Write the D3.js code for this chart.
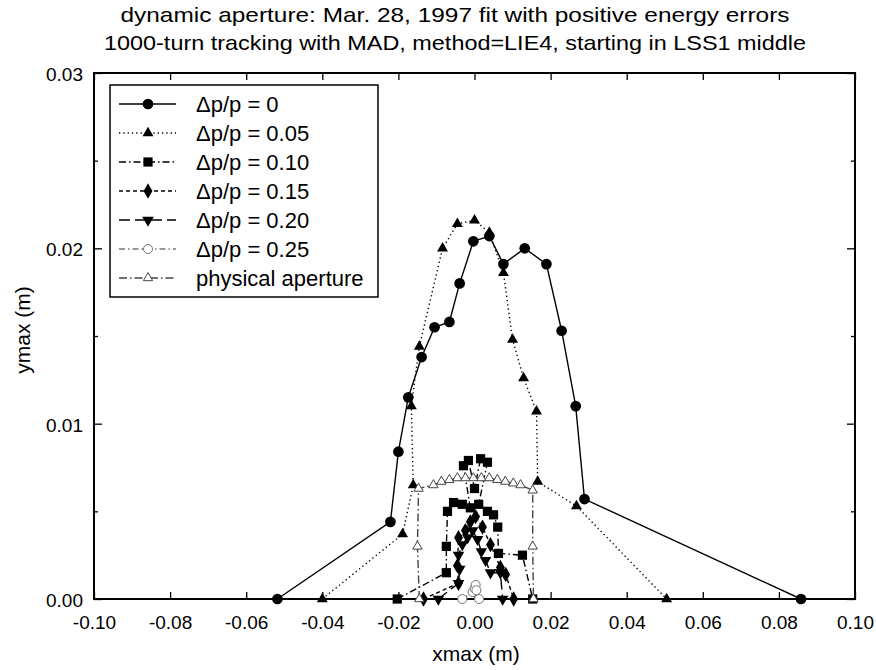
<!DOCTYPE html>
<html>
<head>
<meta charset="utf-8">
<script src="https://cdn.jsdelivr.net/npm/d3@7"></script>
<style>
body { margin: 0; background: #fff; }
text { font-family: "Liberation Sans", Arial, sans-serif; fill: #000; }
</style>
</head>
<body>
<script>
// chart text
var titleLines = ["dynamic aperture: Mar. 28, 1997 fit with positive energy errors",
                  "1000-turn tracking with MAD, method=LIE4, starting in LSS1 middle"];
var xLabel = "xmax (m)";
var yLabel = "ymax (m)";
var xTicks = [-0.10, -0.08, -0.06, -0.04, -0.02, 0.00, 0.02, 0.04, 0.06, 0.08, 0.10];
var yTicks = [0.00, 0.01, 0.02, 0.03];
var yMinorTicks = [0.005, 0.015, 0.025];
var seriesNames = ["\u0394p/p = 0", "\u0394p/p = 0.05", "\u0394p/p = 0.10", "\u0394p/p = 0.15",
                   "\u0394p/p = 0.20", "\u0394p/p = 0.25", "physical aperture"];

// data
var dp00X = [-0.0518, -0.0221, -0.0200, -0.0174, -0.0139, -0.0105, -0.0066, -0.0039, -0.0003, 0.0039, 0.0076, 0.0132, 0.0189, 0.0229, 0.0266, 0.0289, 0.0858];
var dp00Y = [0, 0.0044, 0.0084, 0.0115, 0.0138, 0.0155, 0.0158, 0.0180, 0.0204, 0.0207, 0.0191, 0.0200, 0.0191, 0.0153, 0.0110, 0.0057, 0];

var dp05X = [-0.0400, -0.0189, -0.0161, -0.0166, -0.0145, -0.0084, -0.0045, 0.0000, 0.0039, 0.0076, 0.0100, 0.0129, 0.0163, 0.0166, 0.0268, 0.0505];
var dp05Y = [0, 0.0037, 0.0065, 0.0110, 0.0144, 0.0200, 0.0214, 0.0216, 0.0209, 0.0186, 0.0148, 0.0126, 0.0107, 0.0067, 0.0053, 0];

var dp10X = [-0.0203, -0.0074, -0.0074, -0.0071, -0.0055, -0.0032, -0.0011, -0.0029, -0.0016, 0.0000, 0.0016, 0.0034, 0.0011, 0.0034, 0.0050, 0.0061, 0.0063, 0.0126, 0.0153];
var dp10Y = [0, 0.0015, 0.0030, 0.0050, 0.0055, 0.0054, 0.0052, 0.0076, 0.0079, 0.0063, 0.0080, 0.0078, 0.0054, 0.0050, 0.0048, 0.0041, 0.0026, 0.0025, 0];

var dp15X = [-0.0134, -0.0042, -0.0045, -0.0042, -0.0024, -0.0011, 0.0003, 0.0021, 0.0042, 0.0068, 0.0082, 0.0103];
var dp15Y = [0, 0.0009, 0.0019, 0.0035, 0.0039, 0.0044, 0.0047, 0.0041, 0.0031, 0.0018, 0.0014, 0];

var dp20X = [-0.0095, -0.0042, -0.0039, -0.0042, -0.0032, -0.0018, -0.0005, 0.0008, 0.0018, 0.0029, 0.0042, 0.0068, 0.0074];
var dp20Y = [0, 0.0009, 0.0017, 0.0025, 0.0031, 0.0035, 0.0039, 0.0034, 0.0027, 0.0022, 0.0015, 0.0015, 0];

var dp25X = [-0.0032, -0.0005, 0.0000, 0.0003, 0.0005, 0.0012];
var dp25Y = [0, 0.0004, 0.0006, 0.0008, 0.0005, 0];

var physX = [-0.0145, -0.0150, -0.0147, -0.0108, -0.0087, -0.0066, -0.0045, -0.0024, -0.0003, 0.0018, 0.0039, 0.0060, 0.0081, 0.0102, 0.0121, 0.0153, 0.0153, 0.0155];
var physY = [0, 0.0030, 0.0063, 0.0065, 0.0067, 0.0068, 0.0069, 0.0069, 0.0069, 0.0069, 0.0069, 0.0068, 0.0067, 0.0066, 0.0065, 0.0062, 0.0030, 0];

var seriesX = [dp00X, dp05X, dp10X, dp15X, dp20X, dp25X, physX];
var seriesY = [dp00Y, dp05Y, dp10Y, dp15Y, dp20Y, dp25Y, physY];

// look of each series
var styles = [
  { dash: null,            stroke: "#000", sym: d3.symbolCircle,   size: 90, fill: "#000", rot: 0 },
  { dash: "1.3,3",         stroke: "#000", sym: d3.symbolTriangle, size: 52, fill: "#000", rot: 0 },
  { dash: "7,3,1.5,3",     stroke: "#000", sym: d3.symbolSquare,   size: 85, fill: "#000", rot: 0 },
  { dash: "4,3",           stroke: "#000", sym: d3.symbolDiamond,  size: 68, fill: "#000", rot: 0 },
  { dash: "11,5",          stroke: "#000", sym: d3.symbolTriangle, size: 58, fill: "#000", rot: 180 },
  { dash: "6,3,1.5,3",     stroke: "#777", sym: d3.symbolCircle,   size: 64, fill: "#fff", rot: 0 },
  { dash: "8,3,1.5,3",     stroke: "#444", sym: d3.symbolTriangle, size: 38, fill: "#fff", rot: 0 }
];

var svg = d3.select("body").append("svg")
            .attr("width", 876)
            .attr("height", 670);

var x = d3.scaleLinear().domain([-0.1, 0.1]).range([94, 855]);
var y = d3.scaleLinear().domain([0, 0.03]).range([599, 73]);

// titles
svg.selectAll("text.title")
   .data(titleLines)
   .enter().append("text")
   .attr("class", "title")
   .attr("x", 455)
   .attr("y", function (d, i) { return i === 0 ? 22 : 50; })
   .attr("text-anchor", "middle")
   .attr("font-size", 21)
   .attr("textLength", function (d, i) { return i === 0 ? 669 : 702; })
   .attr("lengthAdjust", "spacingAndGlyphs")
   .text(function (d) { return d; });

// axes, ticks pointing inside
function fmt(d) { return d.toFixed(2); }

var gx = svg.append("g").attr("transform", "translate(0,599)")
   .call(d3.axisBottom(x).tickValues(xTicks).tickFormat(fmt).tickSizeInner(-7).tickSizeOuter(0).tickPadding(17));
var gxt = svg.append("g").attr("transform", "translate(0,73)")
   .call(d3.axisTop(x).tickValues(xTicks).tickFormat("").tickSizeInner(-7).tickSizeOuter(0));
var gy = svg.append("g").attr("transform", "translate(94,0)")
   .call(d3.axisLeft(y).tickValues(yTicks).tickFormat(fmt).tickSizeInner(-8).tickSizeOuter(0).tickPadding(11));
var gyr = svg.append("g").attr("transform", "translate(855,0)")
   .call(d3.axisRight(y).tickValues(yTicks).tickFormat("").tickSizeInner(-8).tickSizeOuter(0));
var gym = svg.append("g").attr("transform", "translate(94,0)")
   .call(d3.axisLeft(y).tickValues(yMinorTicks).tickFormat("").tickSizeInner(-4).tickSizeOuter(0));
var gymr = svg.append("g").attr("transform", "translate(855,0)")
   .call(d3.axisRight(y).tickValues(yMinorTicks).tickFormat("").tickSizeInner(-4).tickSizeOuter(0));

svg.selectAll(".domain").remove();
svg.selectAll(".tick line").attr("stroke", "#000").attr("stroke-width", 1.3);
gx.selectAll("text").attr("font-size", 19).attr("font-family", "Liberation Sans, Arial, sans-serif");
gy.selectAll("text").attr("font-size", 19).attr("font-family", "Liberation Sans, Arial, sans-serif").attr("dy", "0.4em");

svg.append("rect")
   .attr("x", 94).attr("y", 73)
   .attr("width", 855 - 94).attr("height", 599 - 73)
   .attr("fill", "none")
   .attr("stroke", "#000")
   .attr("stroke-width", 2);

// axis labels
svg.append("text")
   .attr("x", 476).attr("y", 661)
   .attr("text-anchor", "middle")
   .attr("font-size", 21)
   .text(xLabel);

svg.append("text")
   .attr("transform", "translate(30,330) rotate(-90)")
   .attr("text-anchor", "middle")
   .attr("font-size", 21)
   .text(yLabel);

// series
var line = d3.line()
             .x(function (d) { return x(d[0]); })
             .y(function (d) { return y(d[1]); });

seriesX.forEach(function (xs, i) {
  var pts = d3.zip(xs, seriesY[i]);
  var st = styles[i];
  var g = svg.append("g");
  g.append("path")
   .datum(pts)
   .attr("d", line)
   .attr("fill", "none")
   .attr("stroke", st.stroke)
   .attr("stroke-width", 1.4)
   .attr("stroke-dasharray", st.dash);
  g.selectAll("path.mark")
   .data(pts)
   .enter().append("path")
   .attr("class", "mark")
   .attr("d", d3.symbol().type(st.sym).size(st.size))
   .attr("transform", function (d) { return "translate(" + x(d[0]) + "," + y(d[1]) + ") rotate(" + st.rot + ")"; })
   .attr("fill", st.fill)
   .attr("stroke", st.fill === "#fff" ? st.stroke : "none")
   .attr("stroke-width", 1);
});

// legend
var legend = svg.append("g");
legend.append("rect")
   .attr("x", 110).attr("y", 85)
   .attr("width", 268).attr("height", 212)
   .attr("fill", "#fff")
   .attr("stroke", "#000")
   .attr("stroke-width", 1.5);

var rows = legend.selectAll("g.row")
   .data(seriesNames)
   .enter().append("g")
   .attr("class", "row")
   .attr("transform", function (d, i) { return "translate(0," + (104 + i * 29) + ")"; });

rows.append("line")
   .attr("x1", 119).attr("x2", 176)
   .attr("stroke", function (d, i) { return styles[i].stroke; })
   .attr("stroke-width", 1.4)
   .attr("stroke-dasharray", function (d, i) { return styles[i].dash; });

rows.append("path")
   .attr("d", function (d, i) { return d3.symbol().type(styles[i].sym).size(styles[i].size)(); })
   .attr("transform", function (d, i) { return "translate(148,0) rotate(" + styles[i].rot + ")"; })
   .attr("fill", function (d, i) { return styles[i].fill; })
   .attr("stroke", function (d, i) { return styles[i].fill === "#fff" ? styles[i].stroke : "none"; });

rows.append("text")
   .attr("x", 196)
   .attr("y", 8)
   .attr("font-size", 22)
   .text(function (d) { return d; });
</script>
</body>
</html>
